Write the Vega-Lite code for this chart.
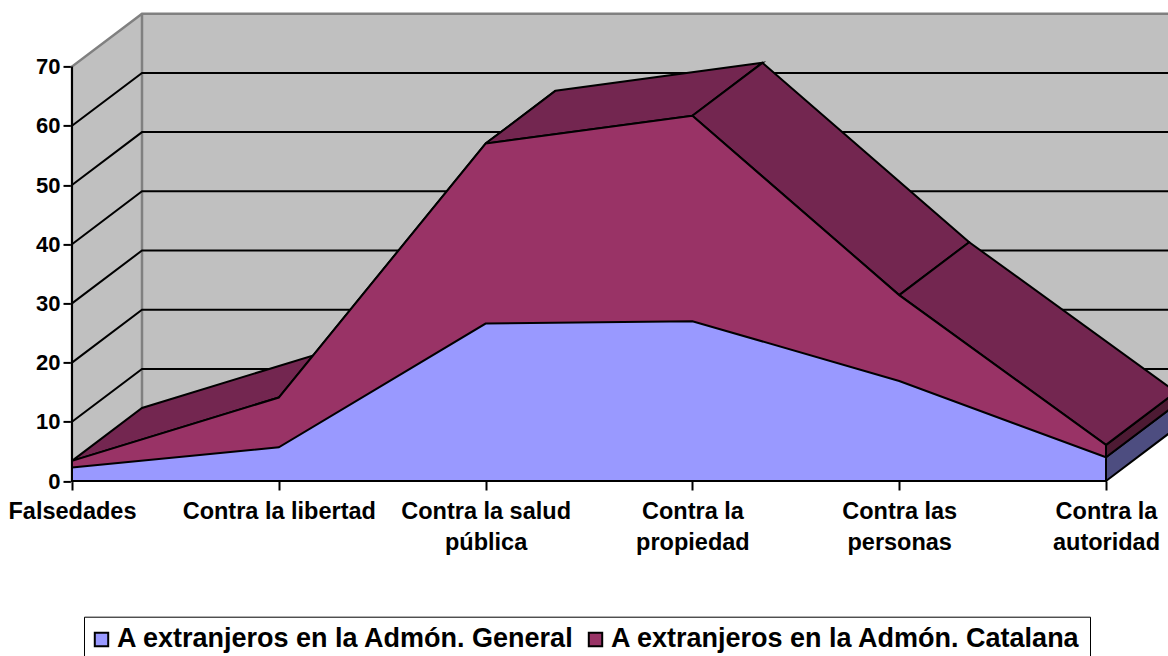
{
"$schema":"https://vega.github.io/schema/vega-lite/v6.json",
"width":1096,"height":467.6,
"autosize":{"type":"none"},
"padding":{"left":72,"top":13.4,"right":0,"bottom":175},
"background":"white",
"config":{"view":{"stroke":null},"font":"Liberation Sans"},
"datasets":{
"wall":[{"x":0,"lo":0,"hi":70},{"x":0.3385,"lo":8.94,"hi":78.94},{"x":5.4,"lo":8.94,"hi":78.94}],
"grid":[
{"v":10,"o":0,"x":0,"y":10},{"v":10,"o":1,"x":0.3385,"y":18.94},{"v":10,"o":2,"x":5.4,"y":18.94},
{"v":20,"o":0,"x":0,"y":20},{"v":20,"o":1,"x":0.3385,"y":28.94},{"v":20,"o":2,"x":5.4,"y":28.94},
{"v":30,"o":0,"x":0,"y":30},{"v":30,"o":1,"x":0.3385,"y":38.94},{"v":30,"o":2,"x":5.4,"y":38.94},
{"v":40,"o":0,"x":0,"y":40},{"v":40,"o":1,"x":0.3385,"y":48.94},{"v":40,"o":2,"x":5.4,"y":48.94},
{"v":50,"o":0,"x":0,"y":50},{"v":50,"o":1,"x":0.3385,"y":58.94},{"v":50,"o":2,"x":5.4,"y":58.94},
{"v":60,"o":0,"x":0,"y":60},{"v":60,"o":1,"x":0.3385,"y":68.94},{"v":60,"o":2,"x":5.4,"y":68.94}],
"corner":[{"x":0.3385,"y":8.94},{"x":0.3385,"y":78.94}],
"faces":[
{"f":"t0","k":"top","o":0,"x":0,"y":3.4},{"f":"t0","k":"top","o":1,"x":1,"y":14.1},{"f":"t0","k":"top","o":2,"x":1.3385,"y":23.04},{"f":"t0","k":"top","o":3,"x":0.3385,"y":12.34},{"f":"t0","k":"top","o":4,"x":0,"y":3.4},
{"f":"t1","k":"top","o":0,"x":1,"y":14.1},{"f":"t1","k":"top","o":1,"x":2,"y":57},{"f":"t1","k":"top","o":2,"x":2.3385,"y":65.94},{"f":"t1","k":"top","o":3,"x":1.3385,"y":23.04},{"f":"t1","k":"top","o":4,"x":1,"y":14.1},
{"f":"t2","k":"top","o":0,"x":2,"y":57},{"f":"t2","k":"top","o":1,"x":3,"y":61.7},{"f":"t2","k":"top","o":2,"x":3.3385,"y":70.64},{"f":"t2","k":"top","o":3,"x":2.3385,"y":65.94},{"f":"t2","k":"top","o":4,"x":2,"y":57},
{"f":"t3","k":"top","o":0,"x":3,"y":61.7},{"f":"t3","k":"top","o":1,"x":4,"y":31.4},{"f":"t3","k":"top","o":2,"x":4.3385,"y":40.34},{"f":"t3","k":"top","o":3,"x":3.3385,"y":70.64},{"f":"t3","k":"top","o":4,"x":3,"y":61.7},
{"f":"t4","k":"top","o":0,"x":4,"y":31.4},{"f":"t4","k":"top","o":1,"x":5,"y":6.1},{"f":"t4","k":"top","o":2,"x":5.3385,"y":15.04},{"f":"t4","k":"top","o":3,"x":4.3385,"y":40.34},{"f":"t4","k":"top","o":4,"x":4,"y":31.4},
{"f":"s2","k":"side2","o":0,"x":5,"y":4},{"f":"s2","k":"side2","o":1,"x":5,"y":6.1},{"f":"s2","k":"side2","o":2,"x":5.3385,"y":15.04},{"f":"s2","k":"side2","o":3,"x":5.3385,"y":12.94},{"f":"s2","k":"side2","o":4,"x":5,"y":4},
{"f":"s1","k":"side1","o":0,"x":5,"y":0},{"f":"s1","k":"side1","o":1,"x":5,"y":4},{"f":"s1","k":"side1","o":2,"x":5.3385,"y":12.94},{"f":"s1","k":"side1","o":3,"x":5.3385,"y":8.94},{"f":"s1","k":"side1","o":4,"x":5,"y":0}],
"series":[
{"serie":"A extranjeros en la Admón. Catalana","x":0,"y":3.4},{"serie":"A extranjeros en la Admón. Catalana","x":1,"y":14.1},{"serie":"A extranjeros en la Admón. Catalana","x":2,"y":57},{"serie":"A extranjeros en la Admón. Catalana","x":3,"y":61.7},{"serie":"A extranjeros en la Admón. Catalana","x":4,"y":31.4},{"serie":"A extranjeros en la Admón. Catalana","x":5,"y":6.1},
{"serie":"A extranjeros en la Admón. General","x":0,"y":2.3},{"serie":"A extranjeros en la Admón. General","x":1,"y":5.7},{"serie":"A extranjeros en la Admón. General","x":2,"y":26.6},{"serie":"A extranjeros en la Admón. General","x":3,"y":27},{"serie":"A extranjeros en la Admón. General","x":4,"y":16.9},{"serie":"A extranjeros en la Admón. General","x":5,"y":4}],
"axes":[{"a":"y","x":0,"y":0},{"a":"y","x":0,"y":70},{"a":"x","x":0,"y":0},{"a":"x","x":5,"y":0}]
},
"encoding":{
"x":{"field":"x","type":"quantitative","scale":{"domain":[0,5.2998],"nice":false,"zero":false},
"axis":{"title":null,"grid":false,"domain":false,"values":[0,1,2,3,4,5],"tickColor":"black","tickWidth":2,"tickSize":9,"labelFont":"Liberation Sans","labelFontWeight":"bold","labelFontSize":23.5,"labelColor":"black","labelPadding":9,"labelLineHeight":31,"labelBaseline":"top","labelOverlap":false,"labelBound":false,"labelFlush":false,"labelAlign":"center","labelLimit":400,
"labelExpr":"datum.value==0?'Falsedades':datum.value==1?'Contra la libertad':datum.value==2?['Contra la salud','pública']:datum.value==3?['Contra la','propiedad']:datum.value==4?['Contra las','personas']:['Contra la','autoridad']"}},
"y":{"field":"y","type":"quantitative","scale":{"domain":[0,78.99],"nice":false,"zero":false},
"axis":{"title":null,"grid":false,"domain":false,"values":[0,10,20,30,40,50,60,70],"tickColor":"black","tickWidth":2,"tickSize":9,"labelFont":"Liberation Sans","labelFontWeight":"bold","labelFontSize":22,"labelColor":"black","labelPadding":3,"labelOverlap":false,"labelBound":false}}
},
"layer":[
{"data":{"name":"wall"},"mark":{"type":"area","fill":"#C0C0C0","stroke":"#808080","strokeWidth":2.5},"encoding":{"y":{"field":"lo","type":"quantitative"},"y2":{"field":"hi"}}},
{"data":{"name":"corner"},"mark":{"type":"line","stroke":"#808080","strokeWidth":2.5},"encoding":{}},
{"data":{"name":"grid"},"mark":{"type":"line","stroke":"black","strokeWidth":2},"encoding":{"detail":{"field":"v"},"order":{"field":"o"}}},
{"data":{"name":"faces"},"transform":[{"filter":"datum.k=='side1'"}],"mark":{"type":"line","fill":"#4D4D80","stroke":"black","strokeWidth":2},"encoding":{"detail":{"field":"f"},"order":{"field":"o"}}},
{"data":{"name":"faces"},"transform":[{"filter":"datum.k=='side2'"}],"mark":{"type":"line","fill":"#4D1A33","stroke":"black","strokeWidth":2},"encoding":{"detail":{"field":"f"},"order":{"field":"o"}}},
{"data":{"name":"faces"},"transform":[{"filter":"datum.k=='top'"}],"mark":{"type":"line","fill":"#732650","stroke":"black","strokeWidth":2},"encoding":{"detail":{"field":"f"},"order":{"field":"o"}}},
{"data":{"name":"series"},"mark":{"type":"area","stroke":"black","strokeWidth":2},"encoding":{
"y":{"field":"y","type":"quantitative","stack":null},
"y2":{"datum":0},
"fill":{"field":"serie","type":"nominal","scale":{"domain":["A extranjeros en la Admón. General","A extranjeros en la Admón. Catalana"],"range":["#9999FF","#993366"]},
"legend":{"title":null,"orient":"none","legendX":12,"legendY":603.3,"direction":"horizontal","columns":2,"columnPadding":9,"padding":9,"strokeColor":"black","symbolType":"square","symbolSize":180,"symbolOffset":-5,"symbolStrokeColor":"black","symbolStrokeWidth":2,"labelFont":"Liberation Sans","labelFontWeight":"bold","labelFontSize":27,"labelColor":"black","labelLimit":600,"labelOffset":2}}}},
{"data":{"name":"axes"},"mark":{"type":"line","stroke":"black","strokeWidth":2},"encoding":{"detail":{"field":"a"}}}
]
}
